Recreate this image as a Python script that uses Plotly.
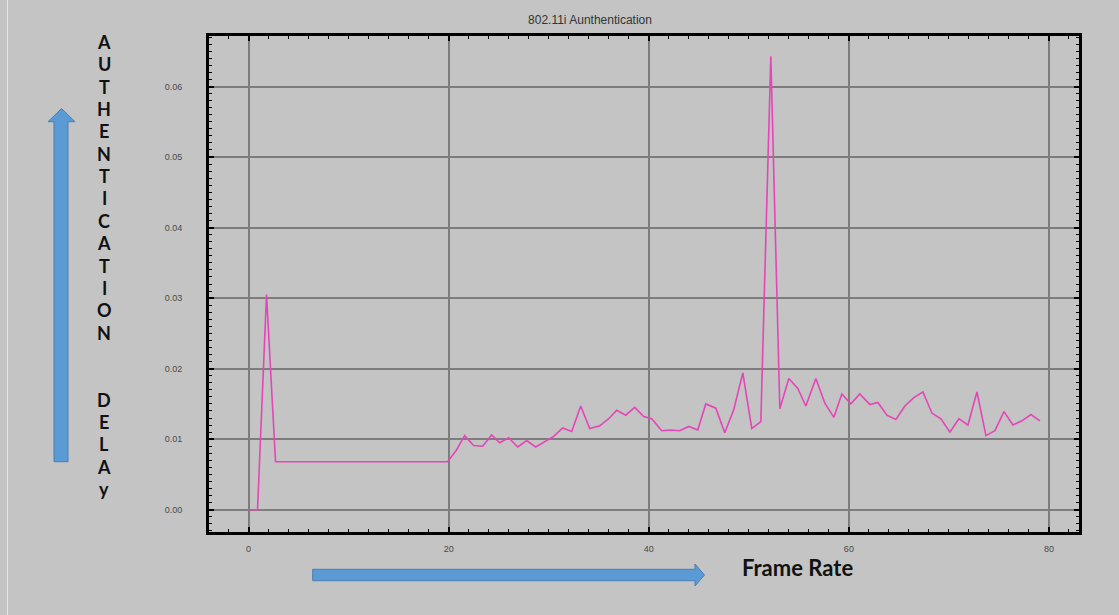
import plotly.graph_objects as go

# ---- data ----
frame_rate = [0, 0.9, 1.8, 2.7, 19.9, 20.8, 21.6, 22.5, 23.4, 24.3, 25.1, 26.0, 26.9, 27.8,
              28.7, 29.6, 30.5, 31.4, 32.3, 33.2, 34.1, 35.1, 36.0, 36.8, 37.7, 38.6, 39.5,
              40.3, 41.3, 42.2, 43.1, 44.0, 44.9, 45.7, 46.7, 47.6, 48.5, 49.4, 50.3, 51.2,
              52.2, 53.1, 54.0, 54.9, 55.7, 56.7, 57.6, 58.5, 59.3, 60.2, 61.1, 62.1, 62.9,
              63.8, 64.7, 65.6, 66.5, 67.4, 68.3, 69.2, 70.1, 71.0, 71.9, 72.8, 73.7, 74.6,
              75.5, 76.4, 77.3, 78.2, 79.1]
auth_delay = [0, 0, 0.0305, 0.0068, 0.0068, 0.0085, 0.0105, 0.0091, 0.0090, 0.0106, 0.0095,
              0.0102, 0.0089, 0.0098, 0.0089, 0.0097, 0.0104, 0.0116, 0.0111, 0.0147, 0.0115,
              0.0119, 0.0129, 0.0141, 0.0134, 0.0145, 0.0132, 0.0129, 0.0112, 0.0113, 0.0112,
              0.0118, 0.0113, 0.0150, 0.0144, 0.0109, 0.0142, 0.0194, 0.0115, 0.0125, 0.0643,
              0.0143, 0.0186, 0.0172, 0.0147, 0.0186, 0.0151, 0.0131, 0.0164, 0.0150, 0.0164,
              0.0149, 0.0152, 0.0134, 0.0128, 0.0147, 0.0159, 0.0167, 0.0137, 0.0129, 0.0110,
              0.0129, 0.0120, 0.0167, 0.0105, 0.0112, 0.0139, 0.0120, 0.0126, 0.0135, 0.0126]
x_ticks = [0, 20, 40, 60, 80]
y_ticks = [0.00, 0.01, 0.02, 0.03, 0.04, 0.05, 0.06]
title_text = "802.11i Aunthentication"
y_label_letters = list("AUTHENTICATION") + ["", ""] + list("DELAy")
x_label_text = "Frame Rate"

W, H = 1119, 615
L, R, T, B = 209, 1079, 36, 532
BG = "#c4c4c4"


def px(xp):
    return (xp - L) / (R - L)


def py(yp):
    return (B - yp) / (B - T)


fig = go.Figure()
fig.add_trace(go.Scatter(x=frame_rate, y=auth_delay, mode="lines",
                         line=dict(color="#e545b8", width=1.6), showlegend=False,
                         hoverinfo="x+y"))

axis_common = dict(
    showgrid=True, gridcolor="#7d7d7d", gridwidth=1.5,
    showline=True, linecolor="black", linewidth=3, mirror="allticks",
    ticks="inside", ticklen=5, tickwidth=2, tickcolor="black",
    zeroline=False, tickfont=dict(family="Liberation Sans, Arial", size=9, color="#4a4a4a"),
)

fig.update_xaxes(range=[-3.95, 83.0], tickvals=x_ticks, ticklabelstandoff=6,
                 minor=dict(dtick=2, tick0=0, ticks="inside", ticklen=3, tickcolor="black",
                            tickwidth=1, showgrid=False),
                 **axis_common)
fig.update_yaxes(range=[-0.00316, 0.06716], tickvals=y_ticks, tickformat=".2f",
                 ticklabelstandoff=22,
                 minor=dict(dtick=0.001, tick0=0, ticks="inside", ticklen=3, tickcolor="black",
                            tickwidth=1, showgrid=False),
                 **axis_common)

shapes = []
# up arrow (blue)
up_path = (f"M {px(54)} {py(461.7)} L {px(54)} {py(121.7)} L {px(48)} {py(121.7)} "
           f"L {px(61.5)} {py(108.5)} L {px(75)} {py(121.7)} L {px(68)} {py(121.7)} "
           f"L {px(68)} {py(461.7)} Z")
shapes.append(dict(type="path", xref="paper", yref="paper", path=up_path,
                   fillcolor="#5b9bd5", line=dict(color="#4a7fb5", width=1), layer="above"))
# right arrow (blue)
rt_path = (f"M {px(312.7)} {py(569.3)} L {px(695)} {py(569.3)} L {px(695)} {py(564)} "
           f"L {px(704.5)} {py(575)} L {px(695)} {py(586)} L {px(695)} {py(580.7)} "
           f"L {px(312.7)} {py(580.7)} Z")
shapes.append(dict(type="path", xref="paper", yref="paper", path=rt_path,
                   fillcolor="#5b9bd5", line=dict(color="#4a7fb5", width=1), layer="above"))
# thin light border line at left edge of image
shapes.append(dict(type="line", xref="paper", yref="paper", x0=px(7.5), x1=px(7.5),
                   y0=py(0), y1=py(615), line=dict(color="#e6e6e6", width=1)))

annotations = []
y0, step = 42.0, 22.35
for i, ch in enumerate(y_label_letters):
    if not ch:
        continue
    annotations.append(dict(text=f"<b>{ch}</b>", x=px(104), y=py(y0 + i * step),
                            xref="paper", yref="paper", xanchor="center", yanchor="middle",
                            showarrow=False,
                            font=dict(family="Lato, Open Sans", size=18, color="#111111")))
annotations.append(dict(text=f"<b>{x_label_text}</b>", x=px(740), y=py(567),
                        xref="paper", yref="paper", xanchor="left", yanchor="middle",
                        showarrow=False,
                        font=dict(family="Lato, Open Sans", size=22, color="#111111")))

fig.update_layout(
    width=W, height=H,
    margin=dict(l=L, r=W - R, t=T, b=H - B, autoexpand=False),
    paper_bgcolor=BG, plot_bgcolor=BG,
    title=dict(text=title_text, x=590 / W, y=1 - 20 / H, xanchor="center", yanchor="middle",
               font=dict(family="Liberation Sans, Arial", size=12, color="#333333")),
    shapes=shapes, annotations=annotations, showlegend=False,
)

fig.write_html(
    "out.html",
    config={"displayModeBar": False},
    post_script="document.body.style.margin='0';document.body.style.padding='0';"
                "document.body.style.background='" + BG + "';",
)
